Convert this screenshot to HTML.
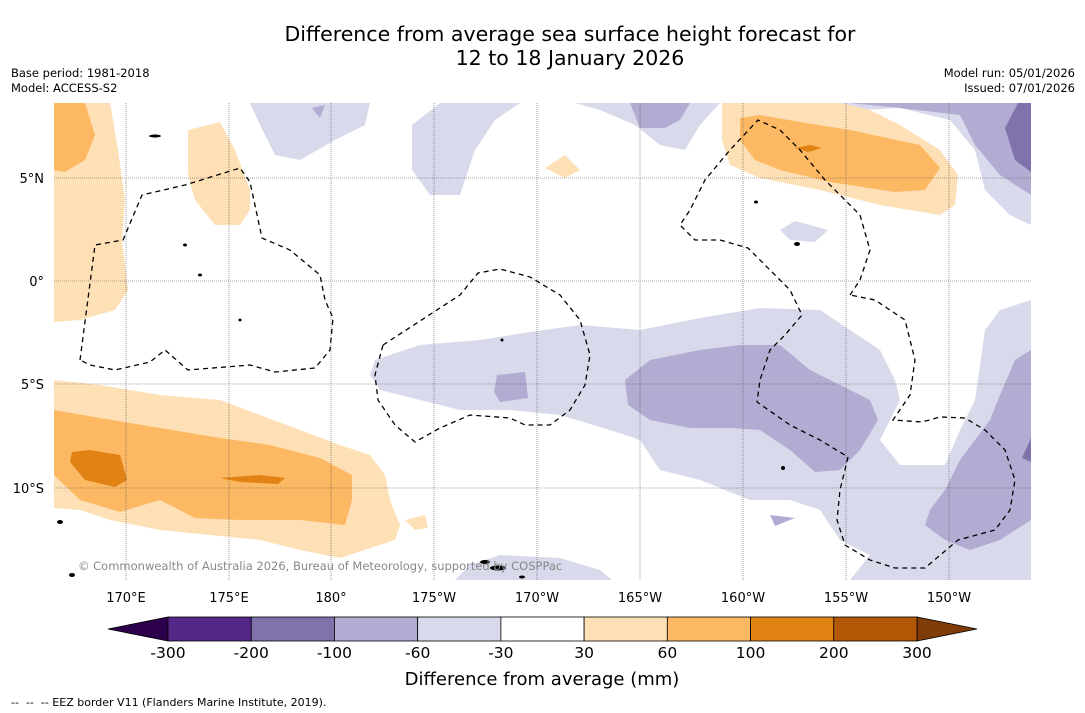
<!DOCTYPE html>
<html><head><meta charset="utf-8"><style>
body{margin:0;background:#fff;font-family:"DejaVu Sans",sans-serif;}
#w{position:relative;width:1085px;height:713px;overflow:hidden;background:#fff;}
.t{position:absolute;white-space:nowrap;color:#000;}
</style></head><body>
<div id="w">
<div class="t" style="left:0;width:1140px;top:22px;font-size:20.5px;text-align:center;line-height:24px;">Difference from average sea surface height forecast for<br>12 to 18 January 2026</div>
<div class="t" style="left:11px;top:66px;font-size:11.5px;line-height:15px;">Base period: 1981-2018<br>Model: ACCESS-S2</div>
<div class="t" style="right:10px;top:66px;font-size:11.5px;line-height:15px;text-align:right;">Model run: 05/01/2026<br>Issued: 07/01/2026</div>
<svg width="1085" height="713" style="position:absolute;left:0;top:0">
<defs><clipPath id="mc"><rect x="54" y="103" width="977" height="477"/></clipPath></defs>
<g clip-path="url(#mc)">
<g fill="#d8daeb">
<polygon points="250,103 370,103 365,125 335,140 300,160 275,155 260,125"/>
<polygon points="440,103 520,103 495,120 475,150 460,195 430,195 412,170 412,125"/>
<polygon points="575,103 720,103 700,125 685,150 660,145 635,125 600,110"/>
<polygon points="830,103 1031,103 1031,225 1010,215 985,190 975,150 950,120 900,108 860,110"/>
<polygon points="780,230 795,221 828,230 815,242 790,240"/>
<polygon points="375,360 420,345 480,340 530,332 580,325 640,330 700,318 760,308 820,310 850,330 880,350 895,380 900,400 880,440 900,465 945,465 960,430 975,400 985,330 1000,310 1031,300 1031,580 850,580 870,555 840,540 820,510 790,500 750,500 700,480 660,470 640,440 610,430 560,415 510,410 460,410 420,400 380,390 370,375"/>
<polygon points="455,580 470,565 500,555 560,558 600,570 612,580"/>
</g>
<g fill="#b2abd2">
<polygon points="625,380 650,360 700,350 740,345 780,345 810,370 840,385 870,400 878,420 860,450 840,470 815,472 790,450 760,430 730,428 690,428 650,420 628,405"/>
<polygon points="497,375 525,372 528,398 500,402 494,392"/>
<polygon points="630,103 690,103 680,120 665,128 640,128"/>
<polygon points="850,103 1031,103 1031,195 1000,175 975,145 960,115 900,108"/>
<polygon points="1031,350 1015,360 1000,395 990,420 975,440 960,460 945,490 930,510 925,525 945,540 970,550 1000,540 1031,520"/>
<polygon points="770,515 795,518 775,526"/>
<polygon points="312,108 325,105 320,118"/>
</g>
<g fill="#8073ac">
<polygon points="1018,103 1031,103 1031,172 1015,160 1005,128"/>
<polygon points="1022,458 1031,438 1031,462"/>
</g>
<g fill="#fee0b6">
<polygon points="54,103 110,103 118,150 125,200 122,240 128,290 115,310 80,320 54,322"/>
<polygon points="188,130 220,122 235,150 250,190 250,210 240,225 215,225 195,200 188,175"/>
<polygon points="54,380 100,385 160,395 220,400 260,415 300,430 340,445 370,455 385,475 390,500 400,525 395,540 340,558 300,550 260,540 210,535 160,530 110,520 80,510 54,508"/>
<polygon points="405,520 425,515 428,528 415,530"/>
<polygon points="545,168 565,155 580,170 565,178"/>
<polygon points="722,103 840,103 870,110 900,125 940,150 958,175 955,205 940,215 880,205 820,190 760,178 730,165 722,140"/>
</g>
<g fill="#fdb863">
<polygon points="54,103 85,103 95,135 85,160 65,172 54,170"/>
<polygon points="54,410 100,418 160,428 220,438 270,445 320,458 352,475 352,500 345,525 300,520 240,520 195,518 160,500 120,512 80,500 54,475"/>
<polygon points="740,118 760,115 800,122 850,130 920,145 940,168 925,190 895,192 830,182 780,170 755,160 740,140"/>
</g>
<g fill="#e08214">
<polygon points="72,452 90,450 120,455 127,480 115,487 85,480 70,462"/>
<polygon points="220,478 260,475 285,478 278,484 240,482"/>
<polygon points="795,148 810,145 822,148 808,152"/>
</g>
<g stroke="#555" stroke-width="0.6" stroke-dasharray="1,1">
<line x1="126" y1="103" x2="126" y2="580"/><line x1="229" y1="103" x2="229" y2="580"/><line x1="331" y1="103" x2="331" y2="580"/><line x1="434" y1="103" x2="434" y2="580"/><line x1="537" y1="103" x2="537" y2="580"/><line x1="640" y1="103" x2="640" y2="580"/><line x1="743" y1="103" x2="743" y2="580"/><line x1="846" y1="103" x2="846" y2="580"/><line x1="949" y1="103" x2="949" y2="580"/>
<line x1="54" y1="178" x2="1031" y2="178"/><line x1="54" y1="281" x2="1031" y2="281"/><line x1="54" y1="384" x2="1031" y2="384"/><line x1="54" y1="488" x2="1031" y2="488"/>
</g>
<g fill="none" stroke="#000" stroke-width="1.3" stroke-dasharray="5,4">
<polygon points="80,360 95,245 123,240 142,195 185,185 240,168 250,182 262,238 290,250 320,275 325,300 333,318 330,350 315,368 275,372 250,365 188,370 165,350 150,362 115,370 90,365"/>
<polygon points="383,345 460,295 478,273 500,269 530,277 560,295 580,320 590,355 585,385 570,410 550,425 525,425 510,418 470,415 440,428 415,442 395,425 378,400 375,375"/>
<polyline points="850,295 860,280 870,250 860,215 840,195 825,180 800,150 780,130 758,120 730,150 705,180 690,210 680,225 695,240 720,240 748,248 770,270 790,290 802,315 785,335 770,350 760,380 757,402 790,425 820,440 848,457 840,490 837,520 845,545 870,560 895,568 925,568 958,540 995,530 1010,510 1015,480 1005,450 985,430 965,418 940,417 922,422 893,420 910,395 915,360 905,320 875,300 850,295"/>
</g>
<g fill="#000">
<ellipse cx="155" cy="136" rx="6" ry="1.5"/><ellipse cx="185" cy="245" rx="2" ry="1.5"/><ellipse cx="200" cy="275" rx="2" ry="1.5"/><ellipse cx="240" cy="320" rx="1.5" ry="1.5"/><ellipse cx="60" cy="522" rx="3" ry="2"/><ellipse cx="72" cy="575" rx="3" ry="2"/><ellipse cx="498" cy="568" rx="8" ry="2.5"/><ellipse cx="485" cy="562" rx="5" ry="2"/><ellipse cx="797" cy="244" rx="3" ry="2"/><ellipse cx="756" cy="202" rx="2" ry="1.5"/><ellipse cx="783" cy="468" rx="2" ry="2"/><ellipse cx="502" cy="340" rx="1.5" ry="1.5"/><ellipse cx="522" cy="577" rx="3" ry="1.5"/>
</g>
</g>
<text x="78" y="570" font-size="11.5" fill="#888" font-family="DejaVu Sans, sans-serif">© Commonwealth of Australia 2026, Bureau of Meteorology, supported by COSPPac</text>
<g font-size="13" font-family="DejaVu Sans, sans-serif" fill="#000">
<text x="126" y="602" text-anchor="middle">170°E</text><text x="229" y="602" text-anchor="middle">175°E</text><text x="331" y="602" text-anchor="middle">180°</text><text x="434" y="602" text-anchor="middle">175°W</text><text x="537" y="602" text-anchor="middle">170°W</text><text x="640" y="602" text-anchor="middle">165°W</text><text x="743" y="602" text-anchor="middle">160°W</text><text x="846" y="602" text-anchor="middle">155°W</text><text x="949" y="602" text-anchor="middle">150°W</text>
<text x="44" y="183" text-anchor="end">5°N</text><text x="44" y="286" text-anchor="end">0°</text><text x="44" y="389" text-anchor="end">5°S</text><text x="44" y="493" text-anchor="end">10°S</text>
</g>
<g id="cbar"></g>
<text x="542" y="685" text-anchor="middle" font-size="18" font-family="DejaVu Sans, sans-serif">Difference from average (mm)</text>
<text x="11" y="706" font-size="11" font-family="DejaVu Sans, sans-serif" xml:space="preserve">--  --  -- EEZ border V11 (Flanders Marine Institute, 2019).</text>
</svg>
</div>
<script>
const levels=["-300","-200","-100","-60","-30","30","60","100","200","300"];
const levelColors=["#542788","#8073ac","#b2abd2","#d8daeb","#ffffff","#fee0b6","#fdb863","#e08214","#b35806"];
const extendColors=["#2d004b","#7f3b08"];
const ns="http://www.w3.org/2000/svg";
const g=document.getElementById('cbar');
const x0=168,x1=917,y0=617,h=24,w=(x1-x0)/levelColors.length;
function mk(t,a){const e=document.createElementNS(ns,t);for(const k in a)e.setAttribute(k,a[k]);g.appendChild(e);return e;}
let L=mk('polygon',{points:`108,${y0+h/2} ${x0},${y0} ${x0},${y0+h}`,fill:extendColors[0],stroke:'#000','stroke-width':0.8});


let R=mk('polygon',{points:`977,${y0+h/2} ${x1},${y0} ${x1},${y0+h}`,fill:extendColors[1],stroke:'#000','stroke-width':0.8});


levelColors.forEach((c,i)=>{
 const r=mk('rect',{x:x0+i*w,y:y0,width:w,height:h,fill:c,stroke:'#000','stroke-width':0.8});
 
 
});
levels.forEach((l,i)=>{
 const t=mk('text',{x:x0+i*w,y:658,'text-anchor':'middle','font-size':15.5,'font-family':'DejaVu Sans, sans-serif'});
 t.textContent=l;
 
 
});
</script>
</body></html>
